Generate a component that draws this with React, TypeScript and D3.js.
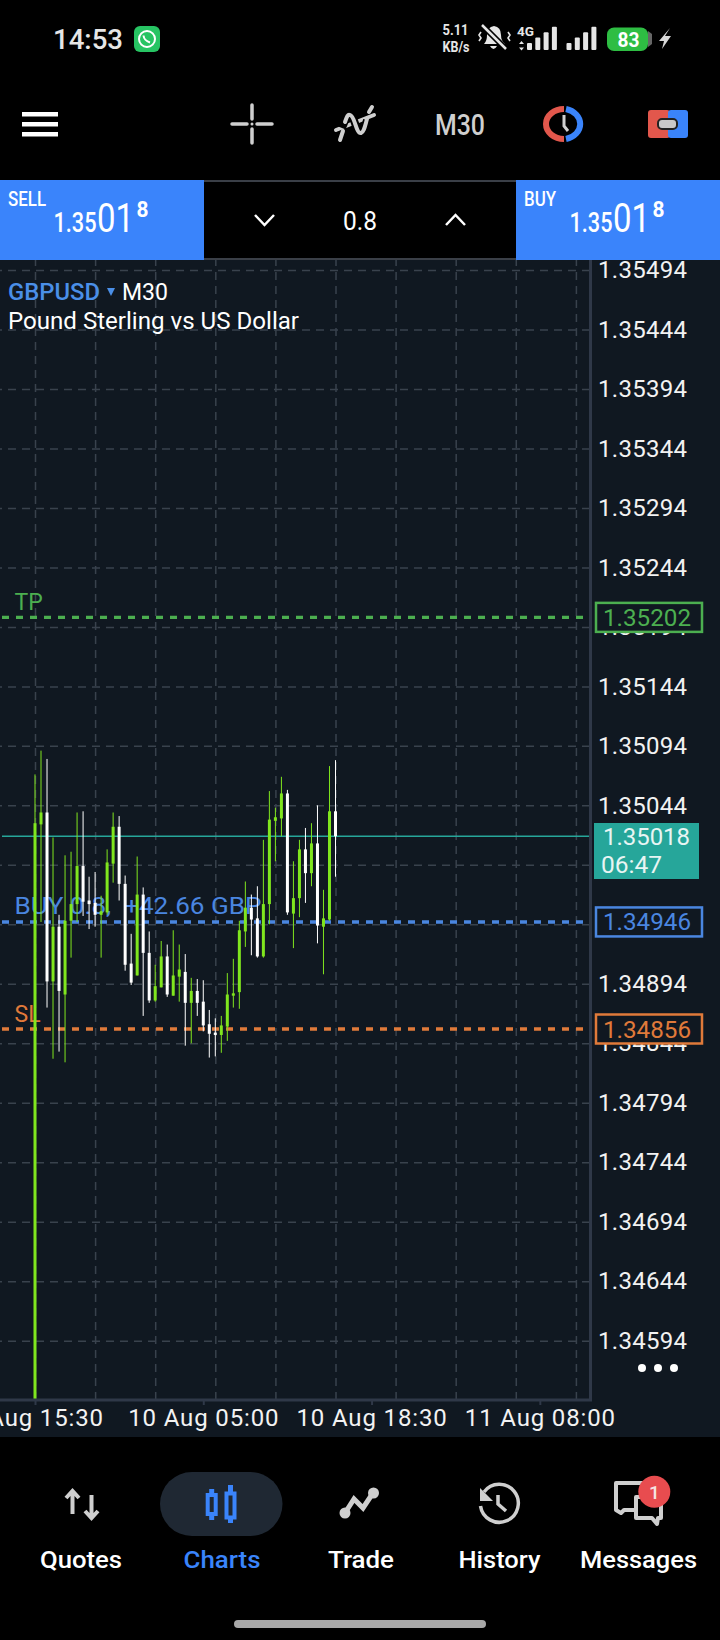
import { useEffect, useRef } from "react";
import * as d3 from "d3";

const priceTicks = [
  1.35494, 1.35444, 1.35394, 1.35344, 1.35294, 1.35244, 1.35194, 1.35144, 1.35094, 1.35044,
  1.34994, 1.34944, 1.34894, 1.34844, 1.34794, 1.34744, 1.34694, 1.34644, 1.34594,
];
// these two labels are fully covered by the live price and order boxes
const coveredLabels = [1.34994, 1.34944];

const timeTicks = [0, 28, 56, 84];
const timeLabels = ["9 Aug 15:30", "10 Aug 05:00", "10 Aug 18:30", "11 Aug 08:00"];
const gridBars = [0, 10, 20, 30, 40, 50, 60, 70, 80, 90];

const candleOpen = [
  1.3453, 1.35028, 1.35038, 1.34896, 1.34942, 1.34885, 1.34947, 1.34961, 1.34993, 1.34964, 1.34962,
  1.34952, 1.34954, 1.34995, 1.35026, 1.34978, 1.34911, 1.34901, 1.34969, 1.3492, 1.3488, 1.34891,
  1.34917, 1.34884, 1.349, 1.34904, 1.34878, 1.34888, 1.34879, 1.3486, 1.34853, 1.34851, 1.34858,
  1.34884, 1.34887, 1.34938, 1.34958, 1.34949, 1.34917, 1.34961, 1.35031, 1.35033, 1.35054, 1.34953,
  1.34966, 1.35007, 1.34987, 1.35012, 1.34942, 1.34948, 1.35039,
];
const candleHigh = [
  1.3507, 1.3509, 1.35083, 1.35017, 1.34952, 1.35002, 1.35005, 1.35038, 1.35039, 1.34984, 1.34988,
  1.34968, 1.35007, 1.35038, 1.35035, 1.34985, 1.34936, 1.35001, 1.34975, 1.34938, 1.3491, 1.3493,
  1.34927, 1.34939, 1.34927, 1.34919, 1.34899, 1.34898, 1.34897, 1.34872, 1.34865, 1.34867, 1.34903,
  1.34915, 1.34947, 1.3498, 1.34969, 1.34976, 1.35015, 1.35056, 1.35042, 1.35068, 1.35057, 1.34997,
  1.35015, 1.35025, 1.35029, 1.35044, 1.34973, 1.35077, 1.35082,
];
const candleLow = [
  1.3453, 1.34946, 1.34874, 1.34831, 1.34837, 1.34828, 1.34916, 1.34946, 1.34951, 1.3494, 1.34942,
  1.34916, 1.34952, 1.34979, 1.34964, 1.34905, 1.34893, 1.34901, 1.34867, 1.34878, 1.34879, 1.34891,
  1.34883, 1.34884, 1.34879, 1.34842, 1.34844, 1.34867, 1.34854, 1.34832, 1.34833, 1.34836, 1.34846,
  1.34874, 1.34873, 1.34925, 1.34918, 1.34916, 1.34916, 1.34944, 1.34997, 1.35018, 1.34952, 1.34924,
  1.3495, 1.34962, 1.34976, 1.34928, 1.34902, 1.34947, 1.34984,
];
const candleClose = [
  1.35029, 1.35038, 1.34896, 1.34942, 1.34888, 1.34947, 1.34961, 1.34993, 1.34963, 1.34961, 1.34952,
  1.34955, 1.34996, 1.35026, 1.34978, 1.3491, 1.34895, 1.34969, 1.3492, 1.3488, 1.34892, 1.34917,
  1.34885, 1.34901, 1.34906, 1.34878, 1.34888, 1.34878, 1.34859, 1.34852, 1.34851, 1.34859, 1.34885,
  1.34886, 1.34939, 1.34958, 1.34948, 1.34917, 1.34961, 1.35032, 1.35034, 1.35054, 1.34954, 1.34966,
  1.35007, 1.34987, 1.35012, 1.34943, 1.34949, 1.35039, 1.35018,
];

const tpPrice = 1.35202;
const buyPrice = 1.34946;
const slPrice = 1.34856;
const lastPrice = 1.35018;

const BG = "#101821";
const GRID = "#39424d";
const AXIS = "#2f3848";
const GREEN = "#80e61e";
const BLUE = "#3a84fb";
const LINE_BLUE = "#4a86e0";
const TP_GREEN = "#4caf50";
const SL_ORANGE = "#e07a3a";
const TEAL = "#26a69a";
const FONT = "Roboto, sans-serif";

const y = d3.scaleLinear().domain([1.35494, 1.34594]).range([270, 1340.7]);
const x = d3.scaleLinear().domain([0, 100]).range([35, 636]);

// condensed text: the app squeezes its labels, so width is given where it matters
function Label({ x: tx, y: ty, w, size, fill = "#fff", weight = 400, anchor = "start", children }: any) {
  return (
    <text
      x={tx}
      y={ty}
      fontSize={size}
      fontWeight={weight}
      fill={fill}
      textAnchor={anchor}
      fontFamily={FONT}
      textLength={w}
      lengthAdjust={w ? "spacingAndGlyphs" : undefined}
      style={{ whiteSpace: "pre" }}
    >
      {children}
    </text>
  );
}

function StatusBar() {
  const bars = [0, 1, 2, 3];
  return (
    <g>
      <Label x={53} y={49} size={27} w={70} weight={500} fill="#e6e6e6">14:53</Label>
      <rect x={134} y={26} width={26} height={26} rx={6} fill="#27c463" />
      <circle cx={147} cy={39} r={8} fill="none" stroke="#fff" strokeWidth={2} />
      <path d="M143.5 35.5 q0.5 5 6.5 7" fill="none" stroke="#fff" strokeWidth={2} />
      <Label x={442.5} y={35} size={14} w={26} weight={700} fill="#e6e6e6">5.11</Label>
      <Label x={442.5} y={52} size={14} w={27} weight={700} fill="#e6e6e6">KB/s</Label>
      <path
        d="M484 44 q3-3 3-9 q0-8 7-9 q7 1 7 9 q0 6 4 9 z M490 46 h7 q-3.5 6-7 0"
        fill="#e6e6e6"
      />
      <path d="M482 25 L506 49" stroke="#000" strokeWidth={6} />
      <path d="M482 25 L506 49" stroke="#e6e6e6" strokeWidth={2.5} />
      <path d="M481 32 l-2 3 2 3 -2 3 M508 32 l2 3 -2 3 2 3" fill="none" stroke="#e6e6e6" strokeWidth={1.6} />
      <Label x={517} y={35.5} size={13} w={17} weight={700} fill="#e6e6e6">4G</Label>
      <path d="M519 44 l2.5-3 2.5 3 z M519 47.5 l2.5 3 2.5-3 z" fill="#e6e6e6" />
      {bars.map((b) => (
        <rect key={b} x={527 + b * 8.3} y={43 - b * 5.4} width={5} height={7 + b * 5.4} rx={1} fill="#e6e6e6" />
      ))}
      {bars.map((b) => (
        <rect key={b} x={566.5 + b * 8.3} y={43 - b * 5.4} width={5} height={7 + b * 5.4} rx={1} fill="#e6e6e6" />
      ))}
      <rect x={607} y={27.5} width={41} height={23.5} rx={7} fill="#2ebd43" />
      <path d="M648 31 l4 3 v10 l-4 3 z" fill="#666" />
      <Label x={628.5} y={46.5} size={20} w={22} weight={700} anchor="middle">83</Label>
      <path d="M670 28 L659 41 h5 l-2 8 L671 36 h-6 z" fill="#d8d8d8" />
    </g>
  );
}

function Toolbar() {
  const c = "#cfcfcf";
  return (
    <g>
      {[114, 124, 134].map((by) => (
        <rect key={by} x={22} y={by - 2} width={36} height={4.5} fill="#fff" />
      ))}
      <path
        d="M232 124 h15 M257 124 h15 M252 105 v14 M252 129 v14"
        stroke={c}
        strokeWidth={3.5}
        strokeLinecap="round"
      />
      <circle cx={252} cy={124} r={1.5} fill={c} />
      {/* indicator icon: a wave crossed by a slanted line */}
      <path d="M336 130 L374 115" stroke={c} strokeWidth={4} strokeLinecap="round" />
      <path d="M342 128 C345 120 347 114 350 115 C355 116 356 134 361 133 C365 132 366 124 367 120" fill="none" stroke="#000" strokeWidth={8} />
      <path d="M340 140 L343 131" stroke={c} strokeWidth={4} strokeLinecap="round" />
      <path d="M345 122 C347 116 348 114 350 115 C355 116 356 134 361 133 C364 132 365 126 367 119" fill="none" stroke={c} strokeWidth={4} strokeLinecap="round" />
      <path d="M369 112 L372 107" stroke={c} strokeWidth={4} strokeLinecap="round" />
      <Label x={460} y={135} size={30} w={50} weight={500} anchor="middle" fill={c}>M30</Label>
      <path d="M564 109 a18 15 0 0 0 0 30" fill="none" stroke="#e2574c" strokeWidth={6} />
      <path d="M566 109 a19 15.5 0 0 1 0 30" fill="none" stroke={BLUE} strokeWidth={6} />
      <path d="M564 115 v11 l4 5" fill="none" stroke={c} strokeWidth={3} />
      <rect x={648} y={110} width={22} height={28} rx={3} fill="#e2574c" />
      <rect x={668} y={110} width={20} height={28} rx={3} fill={BLUE} />
      <rect x={658} y={119} width={19} height={10} rx={4} fill="#c9c9c9" stroke="#222" strokeWidth={2} />
    </g>
  );
}

function PricePanel({ side, offset }: { side: string; offset: number }) {
  return (
    <g transform={`translate(${offset},0)`}>
      <Label x={8} y={206} size={20} w={side === "SELL" ? 38 : 32} weight={500}>{side}</Label>
      <Label x={53.5} y={232} size={27} w={43} weight={500}>1.35</Label>
      <Label x={97} y={232} size={41} w={37}>01</Label>
      <Label x={136.5} y={217} size={22} w={12} weight={700}>8</Label>
    </g>
  );
}

function NavIcons() {
  const c = "#cfcfcf";
  return (
    <g>
      <path d="M72.5 1514 v-22 M66 1498 l6.5-7 6.5 7" fill="none" stroke={c} strokeWidth={4} />
      <path d="M91.5 1495 v22 M85 1511 l6.5 7 6.5-7" fill="none" stroke={c} strokeWidth={4} />
      <rect x={160} y={1472} width={122.5} height={64} rx={32} fill="#1f2833" />
      <g stroke={BLUE} fill="none" strokeWidth={4}>
        <rect x={207.7} y={1495} width={8} height={19} />
        <path d="M211.7 1489 v6 M211.7 1514 v6" strokeWidth={5} />
        <rect x={226.5} y={1493.5} width={8} height={24} />
        <path d="M230.5 1485 v8 M230.5 1518 v5" strokeWidth={5} />
      </g>
      <path d="M345 1513 L354 1499 L363 1508 L373 1493" fill="none" stroke={c} strokeWidth={5} />
      <circle cx={345} cy={1513} r={5.5} fill={c} />
      <circle cx={373.5} cy={1493} r={5.5} fill={c} />
      <path d="M484 1492 a19 19 0 1 1 -3.5 14" fill="none" stroke={c} strokeWidth={3.5} />
      <path d="M480 1488 v13 h13 z" fill={c} />
      <path d="M498 1495 v9 l8 7" fill="none" stroke={c} strokeWidth={3.5} />
      <path d="M616 1483 h28 v27 h-20 l-3 3 -5-3 z" fill="none" stroke={c} strokeWidth={4} strokeLinejoin="round" />
      <path d="M636 1497 h25 v21 h-3 l-1 6 -5-6 h-16 z" fill="#000" stroke={c} strokeWidth={4} strokeLinejoin="round" />
      <circle cx={654.3} cy={1491.7} r={16} fill="#e84c4f" />
      <Label x={654.3} y={1498.5} size={19} weight={500} fill="#f5e3e3" anchor="middle">1</Label>
    </g>
  );
}

export default function App() {
  const gridRef = useRef<SVGGElement>(null);
  const axisRef = useRef<SVGGElement>(null);

  useEffect(() => {
    if (!gridRef.current || !axisRef.current) return;

    const grid = d3.select(gridRef.current);
    const axes = d3.select(axisRef.current);
    grid.selectAll("*").remove();
    axes.selectAll("*").remove();

    // grid lines
    grid
      .append("g")
      .attr("transform", "translate(590,0)")
      .call(d3.axisLeft(y).tickValues(priceTicks).tickSize(590).tickFormat(() => ""));
    grid
      .append("g")
      .attr("transform", "translate(0,1400)")
      .call(d3.axisTop(x).tickValues(gridBars).tickSize(1140).tickFormat(() => ""));
    grid.selectAll(".domain").remove();
    grid
      .selectAll("line")
      .style("stroke", GRID)
      .style("stroke-width", 1.5)
      .style("stroke-dasharray", "8,6");

    // price axis
    const yAxis = axes
      .append("g")
      .attr("transform", "translate(598,0)")
      .call(
        d3
          .axisRight(y)
          .tickValues(priceTicks.filter((p) => !coveredLabels.includes(p)))
          .tickSize(0)
          .tickPadding(0)
          .tickFormat(d3.format(".5f") as any),
      );
    yAxis.select(".domain").remove();
    yAxis
      .selectAll("text")
      .style("fill", "#f2f2f2")
      .style("font-family", FONT)
      .style("font-size", "24px")
      .style("letter-spacing", "0.3px");

    // time axis
    const xAxis = axes
      .append("g")
      .attr("transform", "translate(0,1400)")
      .call(
        d3
          .axisBottom(x)
          .tickValues(timeTicks)
          .tickSize(5)
          .tickPadding(4)
          .tickFormat((_d, i) => timeLabels[i]),
      );
    xAxis.select(".domain").remove();
    xAxis.selectAll("line").style("stroke", AXIS).style("stroke-width", 2);
    xAxis
      .selectAll("text")
      .style("fill", "#f2f2f2")
      .style("font-family", FONT)
      .style("font-size", "24px")
      .style("letter-spacing", "0.85px");
  }, []);

  const tradeLines = [
    { price: tpPrice, color: TP_GREEN },
    { price: buyPrice, color: LINE_BLUE },
    { price: slPrice, color: SL_ORANGE },
  ];

  const fmt = d3.format(".5f");

  return (
    <svg
      width={720}
      height={1640}
      viewBox="0 0 720 1640"
      style={{ position: "absolute", left: 0, top: 0, display: "block", background: "#000" }}
    >
      <defs>
        <clipPath id="plot">
          <rect x={0} y={260} width={590} height={1139} />
        </clipPath>
      </defs>

      <StatusBar />
      <Toolbar />

      {/* chart background */}
      <rect x={0} y={260} width={720} height={1177} fill={BG} />
      <g ref={gridRef} />

      {/* trade order labels sit under the candles */}
      <Label x={14.5} y={610} size={23} fill={TP_GREEN}>TP</Label>
      <Label x={14.5} y={914} size={23} fill={LINE_BLUE} w={247}>{"BUY 0.8,  +42.66 GBP"}</Label>
      <Label x={14.5} y={1022} size={23} fill={SL_ORANGE}>SL</Label>

      {tradeLines.map((l) => (
        <line
          key={l.price}
          x1={2}
          x2={588}
          y1={y(l.price)}
          y2={y(l.price)}
          stroke={l.color}
          strokeWidth={3.4}
          strokeDasharray="7,7"
        />
      ))}
      <line x1={2} x2={589} y1={y(lastPrice)} y2={y(lastPrice)} stroke={TEAL} strokeWidth={1.5} />

      {/* candles */}
      <g clipPath="url(#plot)">
        {candleOpen.map((open, i) => {
          const close = candleClose[i];
          const color = close > open ? GREEN : "#ffffff";
          const top = y(Math.max(open, close));
          const bottom = y(Math.min(open, close));
          return (
            <g key={i}>
              <line x1={x(i)} x2={x(i)} y1={y(candleHigh[i])} y2={y(candleLow[i])} stroke={color} strokeWidth={1} />
              <rect x={x(i) - 1.5} y={top} width={3} height={bottom - top} fill={color} />
            </g>
          );
        })}
      </g>

      {/* axis frame */}
      <path d="M0 1400 H590.5 V260" fill="none" stroke={AXIS} strokeWidth={3} />

      <g ref={axisRef} />

      {/* price boxes on the right */}
      {tradeLines.map((b) => (
        <g key={b.price}>
          <rect
            x={596}
            y={y(b.price) - 14.5}
            width={106}
            height={29}
            fill={BG}
            stroke={b.color}
            strokeWidth={2.5}
          />
          <Label x={603} y={y(b.price) + 8.5} size={24} w={88} fill={b.color}>{fmt(b.price)}</Label>
        </g>
      ))}
      <rect x={594} y={823} width={105} height={56} fill={TEAL} />
      <Label x={603} y={845} size={24} w={87} fill="#e8f5f3">{fmt(lastPrice)}</Label>
      <Label x={601} y={873} size={24} w={61} fill="#e8f5f3">06:47</Label>

      {/* symbol header */}
      <Label x={8} y={300} size={24} w={92} weight={500} fill="#4a8fe8">GBPUSD</Label>
      <path d="M107 288 h8 l-4 8 z" fill="#4a8fe8" />
      <Label x={122} y={300} size={24} w={46}>M30</Label>
      <Label x={8} y={329} size={24} w={291}>Pound Sterling vs US Dollar</Label>

      {/* sell / buy strip */}
      <rect x={0} y={180} width={204} height={80} fill={BLUE} />
      <rect x={516} y={180} width={204} height={80} fill={BLUE} />
      <rect x={204} y={180} width={312} height={78} fill="#000" />
      <rect x={204} y={180} width={312} height={2} fill="#3a3f47" />
      <rect x={204} y={258} width={312} height={2} fill="#3a3f47" />
      <PricePanel side="SELL" offset={0} />
      <PricePanel side="BUY" offset={516} />
      <Label x={360} y={230} size={25} w={34} anchor="middle">0.8</Label>
      <path d="M255 215 l9.5 10 9.5-10" fill="none" stroke="#fff" strokeWidth={2.5} />
      <path d="M446 225 l9.5-10 9.5 10" fill="none" stroke="#fff" strokeWidth={2.5} />

      {/* overflow dots */}
      {[642, 658, 674].map((dx) => (
        <circle key={dx} cx={dx} cy={1368} r={4} fill="#fff" />
      ))}

      {/* bottom nav */}
      <NavIcons />
      <Label x={81} y={1568} size={24} w={82} weight={500} anchor="middle">Quotes</Label>
      <Label x={222} y={1568} size={24} w={77} weight={500} anchor="middle" fill={BLUE}>Charts</Label>
      <Label x={361} y={1568} size={24} w={66} weight={500} anchor="middle">Trade</Label>
      <Label x={499.5} y={1568} size={24} w={82} weight={500} anchor="middle">History</Label>
      <Label x={638.5} y={1568} size={24} w={117} weight={500} anchor="middle">Messages</Label>
      <rect x={234} y={1620} width={252} height={8} rx={4} fill="#a8a8a8" />
    </svg>
  );
}
